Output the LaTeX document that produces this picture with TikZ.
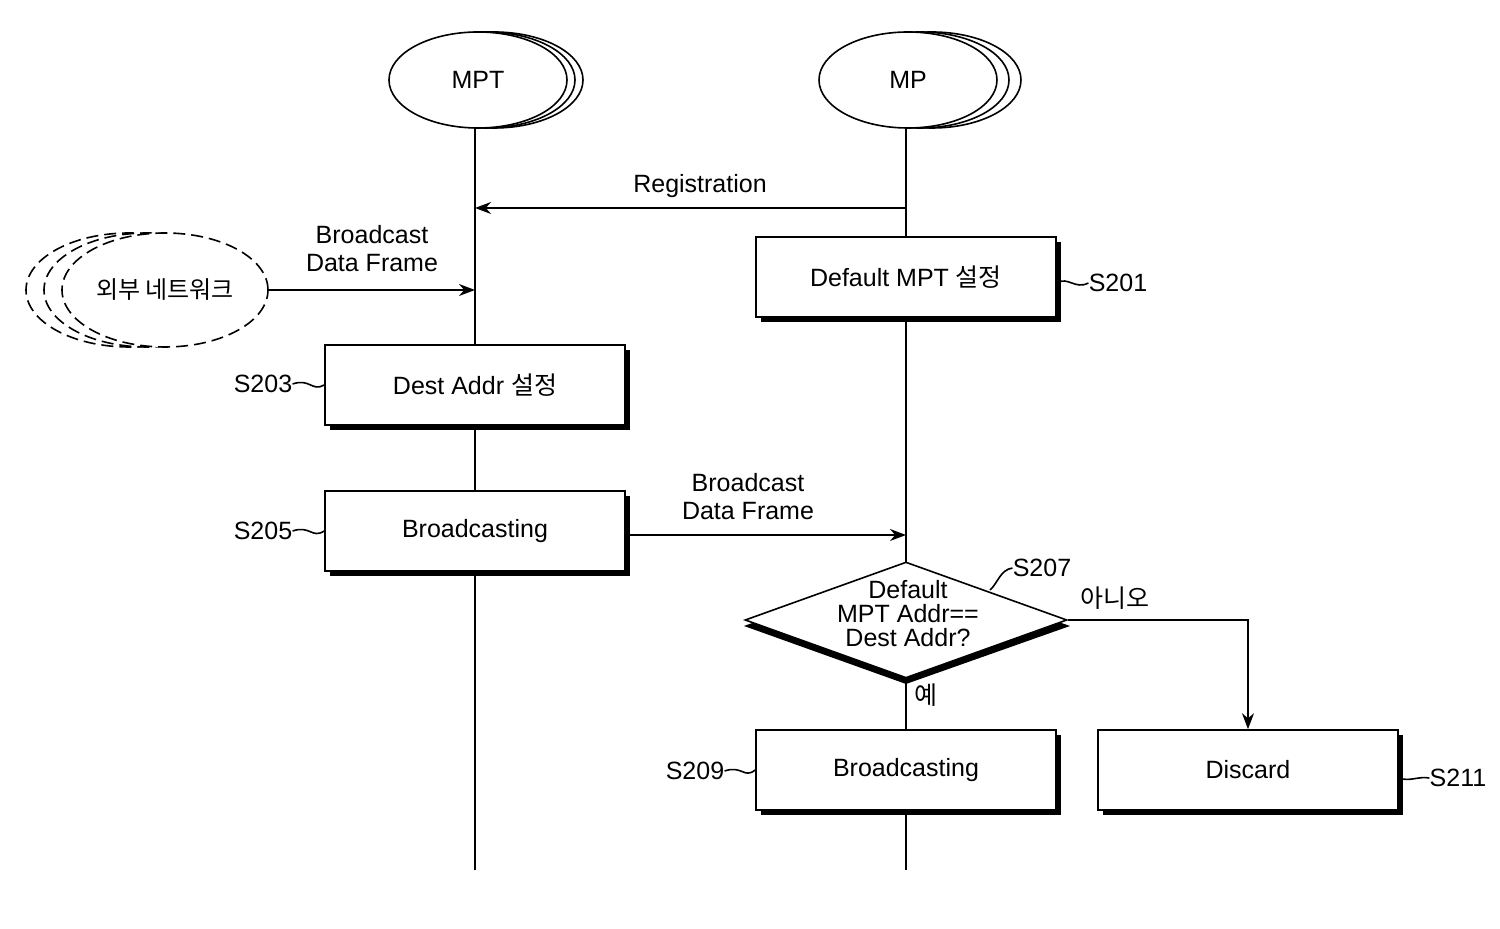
\documentclass[tikz,border=0pt]{standalone}
\usepackage{fontspec}
\setmainfont{Liberation Sans}
\newfontfamily\cjk{Noto Sans CJK KR}
\usetikzlibrary{shapes.geometric,arrows.meta}
\begin{document}
\begin{tikzpicture}[x=0.5pt,y=-0.5pt,
  font=\fontsize{12.5}{14}\selectfont,
  every node/.style={inner sep=0pt},
  box/.style={draw,line width=0.8pt,fill=white,minimum width=150pt,minimum height=40pt,align=center},
  arr/.style={-{Stealth[length=8pt,width=6pt]},line width=0.8pt},
  ln/.style={line width=0.8pt}]
\useasboundingbox (0,0) rectangle (1500,929);
\fill[white] (0,0) rectangle (1500,929);
% lifelines
\coordinate (mptb) at (475,870);
\coordinate (mpb) at (906,870);
% MPT ellipses
\foreach \d in {16,8}{\draw[ln,fill=white] (478+\d,80) ellipse [x radius=89,y radius=48];}
\node[draw,ln,fill=white,ellipse,minimum width=89pt,minimum height=48pt] (mpt) at (478,80) {MPT};
\foreach \d in {24,12}{\draw[ln,fill=white] (908+\d,80) ellipse [x radius=89,y radius=48];}
\node[draw,ln,fill=white,ellipse,minimum width=89pt,minimum height=48pt] (mp) at (908,80) {MP};
\draw[ln] (475,128) -- (mptb);
\draw[ln] (906,128) -- (mpb);
% registration
\coordinate (r1) at (906,208); \coordinate (r2) at (475,208);
\draw[arr] (r1) -- (r2);
\node at (700,186) {Registration};
% external network
\foreach \d in {-36,-18}{\draw[ln,dashed,dash pattern=on 6pt off 3pt,fill=white] (165+\d,290) ellipse [x radius=103,y radius=57];}
\node[draw,ln,dashed,dash pattern=on 6pt off 3pt,fill=white,ellipse,minimum width=103pt,minimum height=57pt,font=\cjk\fontsize{12}{14}\selectfont] (ext) at (165,290) {외부 네트워크};
\coordinate (e2) at (475,290);
\draw[arr] (ext.east) -- (e2);
\node[align=center] at (372,249) {Broadcast\\Data Frame};
% boxes
\newcommand\stepbox[4]{% name, cx, cy, text
  \fill (#2-145,#3-35) rectangle (#2+155,#3+45);
  \node[box] (#1) at (#2,#3) {#4};}
\stepbox{s201}{906}{277}{Default MPT {\cjk 설정}}
\stepbox{s203}{475}{385}{Dest Addr {\cjk 설정}}
\stepbox{s205}{475}{531}{Broadcasting}
\stepbox{s209}{906}{770}{Broadcasting}
\stepbox{s211}{1248}{770}{Discard}
\node (l201) at (1118,283) {S201};
\draw[ln] (s201.east) ++(0,6) .. controls (1068,276) and (1075,290) .. (l201.west);
\node (l203) at (263,384) {S203};
\draw[ln] (l203.east) .. controls (310,378) and (312,392) .. (s203.west);
\node (l205) at (263,531) {S205};
\draw[ln] (l205.east) .. controls (310,525) and (312,539) .. (s205.west);
\node (l209) at (695,771) {S209};
\draw[ln] (l209.east) .. controls (742,765) and (744,779) .. (s209.west);
\node (l211) at (1458,778) {S211};
\draw[ln] (s211.east) ++(0,8) .. controls (1410,782) and (1418,776) .. (l211.west);
% arrow to MP
\coordinate (b2) at (906,535);
\draw[arr] (s205.east |- b2) -- (b2);
\node[align=center] at (748,497) {Broadcast\\Data Frame};
% diamond
\fill (906,568) -- (1070,626) -- (906,684) -- (744,626) -- cycle;
\node[draw,ln,fill=white,diamond,minimum width=161pt,minimum height=58pt,aspect=2.8] (d) at (906,620) {};
\node[align=center,font=\fontsize{12.5}{12}\selectfont] at (908,614) {Default\\MPT Addr==\\Dest Addr?};
\node (l207) at (1042,568) {S207};
\draw[ln] (990,590) .. controls (998,583) and (1000,570) .. (l207.west);
\coordinate (k) at (1248,620);
\draw[arr] (d.east) -- (k) -- (s211.north);
\node[font=\cjk\fontsize{12.5}{14}\selectfont] at (1115,598) {아니오};
\node[font=\cjk\fontsize{12.5}{14}\selectfont] at (926,695) {예};
\end{tikzpicture}
\end{document}
